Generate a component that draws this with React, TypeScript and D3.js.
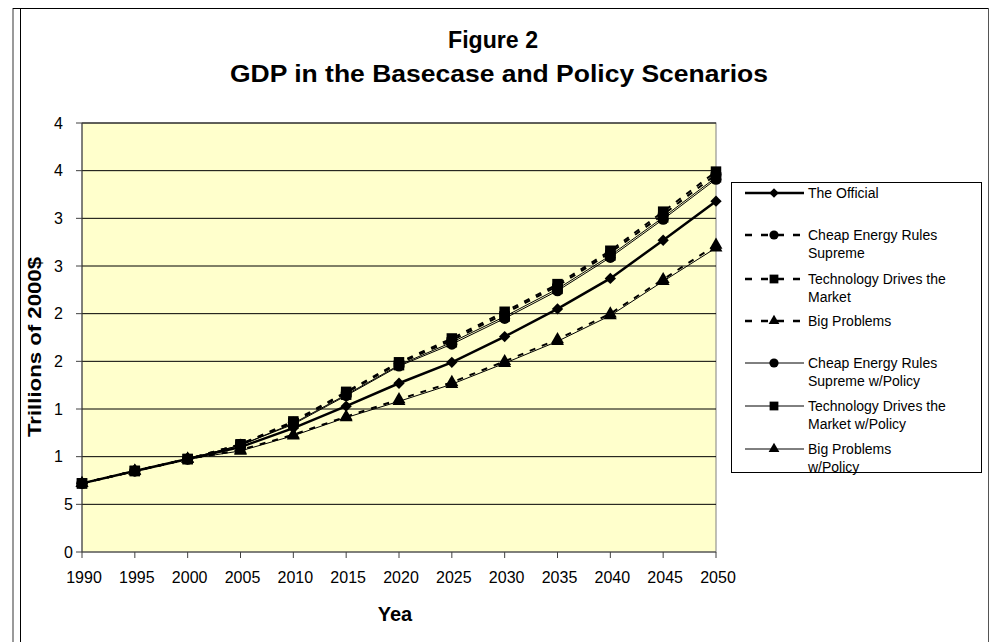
import * as d3 from "d3";

const WIDTH = 990;
const HEIGHT = 642;
const PLOT = { left: 82, top: 123, right: 716, bottom: 552 };
const FONT = "Arial, 'Liberation Sans', sans-serif";

const years = [1990, 1995, 2000, 2005, 2010, 2015, 2020, 2025, 2030, 2035, 2040, 2045, 2050];
const yTickValues = [0, 0.5, 1, 1.5, 2, 2.5, 3, 3.5, 4, 4.5];
const yTickLabels = ["0", "5", "1", "1", "2", "2", "3", "3", "4", "4"];

const official = [0.72, 0.85, 0.975, 1.1, 1.3, 1.53, 1.77, 1.99, 2.26, 2.55, 2.87, 3.27, 3.68];
const cheapEnergy = [0.72, 0.85, 0.975, 1.13, 1.36, 1.67, 1.98, 2.22, 2.5, 2.79, 3.14, 3.54, 3.96];
const techDrives = [0.72, 0.85, 0.975, 1.13, 1.37, 1.68, 1.99, 2.24, 2.52, 2.81, 3.16, 3.57, 3.99];
const bigProblems = [0.72, 0.85, 0.975, 1.07, 1.23, 1.42, 1.6, 1.78, 2.0, 2.23, 2.5, 2.86, 3.22];
const cheapPolicy = [0.72, 0.85, 0.975, 1.12, 1.34, 1.64, 1.95, 2.18, 2.45, 2.74, 3.09, 3.49, 3.91];
const techPolicy = [0.72, 0.85, 0.975, 1.12, 1.35, 1.65, 1.96, 2.2, 2.47, 2.76, 3.11, 3.51, 3.93];
const bigPolicy = [0.72, 0.85, 0.975, 1.06, 1.22, 1.41, 1.58, 1.76, 1.98, 2.21, 2.48, 2.84, 3.19];

type Marker = "diamond" | "circle" | "square" | "triangle";

type Series = {
  name: string[];
  values: number[];
  marker: Marker;
  width: number;
  dash?: string;
};

const series: Series[] = [
  { name: ["The Official"], values: official, marker: "diamond", width: 2.5 },
  { name: ["Cheap Energy Rules", "Supreme"], values: cheapEnergy, marker: "circle", width: 2, dash: "6,7" },
  { name: ["Technology Drives the", "Market"], values: techDrives, marker: "square", width: 2, dash: "6,7" },
  { name: ["Big Problems"], values: bigProblems, marker: "triangle", width: 2, dash: "6,7" },
  { name: ["Cheap Energy Rules", "Supreme w/Policy"], values: cheapPolicy, marker: "circle", width: 1 },
  { name: ["Technology Drives the", "Market w/Policy"], values: techPolicy, marker: "square", width: 1 },
  { name: ["Big Problems", "w/Policy"], values: bigPolicy, marker: "triangle", width: 1 },
];

const legendRows = [193, 235, 279, 321, 363, 406, 449];

// symbol areas, roughly matching Excel's default marker size
function markerPath(m: Marker, scale: number) {
  if (m === "diamond") return d3.symbol(d3.symbolSquare, 64 * scale)() as string;
  if (m === "circle") return d3.symbol(d3.symbolCircle, 95 * scale)() as string;
  if (m === "square") return d3.symbol(d3.symbolSquare, 110 * scale)() as string;
  return d3.symbol(d3.symbolTriangle, 72 * scale)() as string;
}

function MarkerShape({ m, x, y, scale }: { m: Marker; x: number; y: number; scale: number }) {
  const rot = m === "diamond" ? " rotate(45)" : "";
  return <path d={markerPath(m, scale)} transform={`translate(${x},${y})${rot}`} fill="#000" />;
}

export default function App() {
  const x = d3.scaleLinear().domain([1990, 2050]).range([PLOT.left, PLOT.right]);
  const y = d3.scaleLinear().domain([0, 4.5]).range([PLOT.bottom, PLOT.top]);
  const line = d3
    .line<number>()
    .x((_, i) => x(years[i]))
    .y((d) => y(d));

  return (
    <div style={{ position: "absolute", left: 0, top: 0 }}>
      <svg width={WIDTH} height={HEIGHT} style={{ display: "block", fontFamily: FONT }}>
        <rect width={WIDTH} height={HEIGHT} fill="#fff" />
        {/* outer frame */}
        <line x1={13} y1={8} x2={13} y2={HEIGHT} stroke="#9a9a9a" strokeWidth={2} />
        <line x1={13} y1={8.5} x2={988} y2={8.5} stroke="#000" strokeWidth={1} />
        <line x1={20.5} y1={8} x2={20.5} y2={HEIGHT} stroke="#000" strokeWidth={1} />
        <line x1={988.5} y1={8} x2={988.5} y2={HEIGHT} stroke="#555" strokeWidth={1} />

        <text x={493} y={48} textAnchor="middle" fontSize={23} fontWeight="bold" textLength={90} lengthAdjust="spacingAndGlyphs">
          Figure 2
        </text>
        <text x={499} y={82} textAnchor="middle" fontSize={23} fontWeight="bold" textLength={538} lengthAdjust="spacingAndGlyphs">
          GDP in the Basecase and Policy Scenarios
        </text>

        {/* plot area */}
        <rect
          x={PLOT.left}
          y={PLOT.top}
          width={PLOT.right - PLOT.left}
          height={PLOT.bottom - PLOT.top}
          fill="#FFFFCC"
          stroke="#808080"
        />
        {yTickValues.map((v, i) => (
          <g key={i}>
            {v > 0 && (
              <line x1={PLOT.left} x2={PLOT.right} y1={y(v)} y2={y(v)} stroke="#000" strokeWidth={1} />
            )}
            <line x1={PLOT.left - 6} x2={PLOT.left} y1={y(v)} y2={y(v)} stroke="#404040" />
            <text x={v < 1 ? PLOT.left - 9 : PLOT.left - 19} y={y(v)} dy="0.35em" textAnchor="end" fontSize={16}>
              {yTickLabels[i]}
            </text>
          </g>
        ))}
        <line x1={PLOT.left} x2={PLOT.left} y1={PLOT.top} y2={PLOT.bottom} stroke="#404040" />
        <line x1={PLOT.left} x2={PLOT.right} y1={PLOT.bottom} y2={PLOT.bottom} stroke="#404040" />
        {years.map((yr) => (
          <g key={yr}>
            <line x1={x(yr)} x2={x(yr)} y1={PLOT.bottom} y2={PLOT.bottom + 6} stroke="#404040" />
            <text x={x(yr) + 2} y={583} textAnchor="middle" fontSize={16}>
              {yr}
            </text>
          </g>
        ))}

        <text
          transform={`translate(41,347) rotate(-90)`}
          textAnchor="middle"
          fontSize={19}
          fontWeight="bold"
          textLength={180}
          lengthAdjust="spacingAndGlyphs"
        >
          Trillions of 2000$
        </text>
        <text x={395} y={621} textAnchor="middle" fontSize={20} fontWeight="bold">
          Yea
        </text>

        {/* series */}
        {series.map((s, si) => (
          <g key={si}>
            <path d={line(s.values) ?? ""} fill="none" stroke="#000" strokeWidth={s.width} strokeDasharray={s.dash} />
            {s.values.map((v, i) => (
              <MarkerShape key={i} m={s.marker} x={x(years[i])} y={y(v)} scale={1} />
            ))}
          </g>
        ))}

        {/* legend */}
        <rect x={731.5} y={182.5} width={250} height={290} fill="#fff" stroke="#000" />
        {series.map((s, si) => {
          const ly = legendRows[si];
          return (
            <g key={si}>
              <line x1={745} x2={804} y1={ly} y2={ly} stroke="#000" strokeWidth={s.dash ? 2.5 : s.width} strokeDasharray={s.dash ? "7,9" : undefined} />
              <MarkerShape m={s.marker} x={774} y={ly} scale={0.7} />
              {s.name.map((t, ti) => (
                <text key={ti} x={808} y={ly + ti * 18} dy="0.35em" fontSize={14}>
                  {t}
                </text>
              ))}
            </g>
          );
        })}
      </svg>
    </div>
  );
}
